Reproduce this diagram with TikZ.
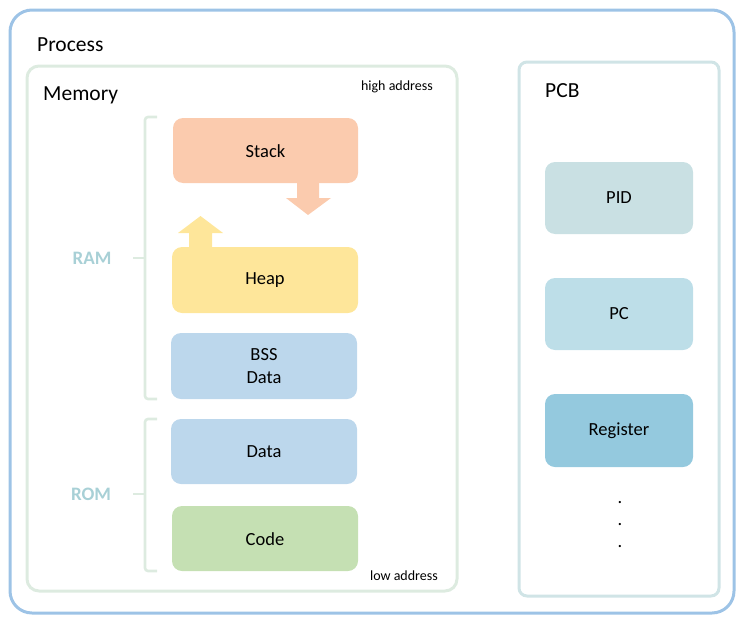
\documentclass[tikz,border=0pt]{standalone}
\usepackage{fontspec}
\setmainfont{Carlito}
\definecolor{outerc}{HTML}{9DC3E6}
\definecolor{memc}{HTML}{DDEBE0}
\definecolor{pcbc}{HTML}{D0E4E6}
\definecolor{stackc}{HTML}{FBCBAE}
\definecolor{heapc}{HTML}{FEE69A}
\definecolor{bssc}{HTML}{BCD7EC}
\definecolor{codec}{HTML}{C5E0B3}
\definecolor{pidc}{HTML}{C9E0E3}
\definecolor{pcc}{HTML}{BDDEE8}
\definecolor{regc}{HTML}{94C9DE}
\definecolor{ramc}{HTML}{A8D0D6}
\tikzset{
  blk/.style={inner sep=0pt, align=center, font=\fontsize{18.5}{23}\selectfont},
  title/.style={anchor=west, inner sep=0pt, font=\fontsize{21.5}{24}\selectfont},
  addr/.style={inner sep=0pt, font=\fontsize{14}{16}\selectfont},
  brace/.style={draw=memc, line width=2.6pt, rounded corners=3pt},
  lbl/.style={inner sep=0pt, text=ramc, font=\bfseries\fontsize{19}{22}\selectfont},
  dot/.style={inner sep=0pt, font=\fontsize{18.5}{20}\selectfont}
}
\begin{document}
\begin{tikzpicture}[x=1pt,y=-1pt]
\useasboundingbox (0,0) rectangle (744,621);
% outer process box
\draw[outerc, line width=3pt, rounded corners=22pt] (10,10) rectangle (734,613);
\node[title] (proc) at (37,45) {Process};
% memory box
\draw[memc, line width=3pt, rounded corners=12pt] (27,66) rectangle (457,591);
\node[title] (mem) at (43,95) {Memory};
\node[addr, anchor=east] (high) at (433,87) {high address};
\node[addr, anchor=east] (low) at (438,576) {low address};
% blocks
\path[fill=stackc, rounded corners=10pt] (173,118) rectangle (358,183);
\node[blk] (stack) at (265.5,151) {Stack};
\path[fill=heapc, rounded corners=10pt] (172,247) rectangle (358,313);
\node[blk] (heap) at (265,280) {Heap};
\path[fill=bssc, rounded corners=10pt] (171,333) rectangle (357,399);
\node[blk] (bss) at (264,366.5) {BSS\\Data};
\path[fill=bssc, rounded corners=10pt] (171,419) rectangle (357,484);
\node[blk] (data) at (264,452) {Data};
\path[fill=codec, rounded corners=10pt] (172,506) rectangle (358,571);
\node[blk] (code) at (265,539) {Code};
% block arrows
\fill[stackc] (297,182) -- (319,182) -- (319,198) -- (331,198) -- (308,215) -- (286,198) -- (297,198) -- cycle;
\fill[heapc] (189,248) -- (212,248) -- (212,233) -- (223,233) -- (200.5,216) -- (178,233) -- (189,233) -- cycle;
% braces
\draw[brace] (157,117) -- (145,117) -- (145,399) -- (157,399);
\draw[memc, line width=2.6pt] (145,258) -- (133,258);
\draw[brace] (157,419) -- (145,419) -- (145,571) -- (157,571);
\draw[memc, line width=2.6pt] (145,494) -- (133,494);
\node[lbl] (ram) at (92,258) {RAM};
\node[lbl] (rom) at (91,494) {ROM};
% PCB
\draw[pcbc, line width=3pt, rounded corners=8pt] (519,62) rectangle (719,596);
\node[title] (pcb) at (545,91) {PCB};
\path[fill=pidc, rounded corners=10pt] (545,162) rectangle (693,234);
\node[blk] (pid) at (619,198) {PID};
\path[fill=pcc, rounded corners=10pt] (545,278) rectangle (693,350);
\node[blk] (pc) at (619,314) {PC};
\path[fill=regc, rounded corners=10pt] (545,394) rectangle (693,467);
\node[blk] (reg) at (619,431) {Register};
\node[dot] (d1) at (620,503) {.};
\node[dot] (d2) at (620,525) {.};
\node[dot] (d3) at (620,547) {.};
\end{tikzpicture}
\end{document}
